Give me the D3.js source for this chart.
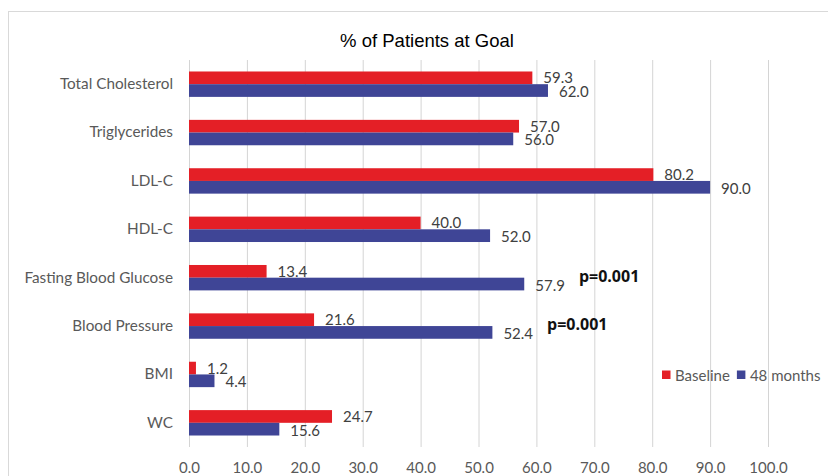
<!DOCTYPE html>
<html>
<head>
<meta charset="utf-8">
<script src="https://cdn.jsdelivr.net/npm/d3@7"></script>
<style>
  html, body { margin: 0; padding: 0; background: #fff; }
  svg { display: block; }
</style>
</head>
<body>
<svg id="chart" width="828" height="476"></svg>
<script>
// Goal attainment by risk factor, baseline vs 48 months
const categories = ["Total Cholesterol", "Triglycerides", "LDL-C", "HDL-C",
  "Fasting Blood Glucose", "Blood Pressure", "BMI", "WC"];
const seriesNames = ["Baseline", "48 months"];
const baseline = [59.3, 57.0, 80.2, 40.0, 13.4, 21.6, 1.2, 24.7];
const months48 = [62.0, 56.0, 90.0, 52.0, 57.9, 52.4, 4.4, 15.6];
const xTicks = [0, 10, 20, 30, 40, 50, 60, 70, 80, 90, 100];
const pNotes = [
  { category: "Fasting Blood Glucose", text: "p=0.001" },
  { category: "Blood Pressure", text: "p=0.001" }
];

const colors = { "Baseline": "#e41f26", "48 months": "#3f4596" };
const labelFont = "Lato, 'Open Sans', sans-serif";

const svg = d3.select("#chart");
const W = 828, H = 476;
const margin = { top: 60, left: 189, right: W - 768, bottom: H - 447 };

// chart frame
svg.append("rect")
  .attr("x", 8.5).attr("y", 11.5)
  .attr("width", W + 20).attr("height", H + 20)
  .attr("fill", "#fff").attr("stroke", "#d9d9d9");

const x = d3.scaleLinear().domain([0, 100]).range([margin.left, W - margin.right]);
const y = d3.scaleBand().domain(categories)
  .range([margin.top, H - margin.bottom])
  .paddingInner(0.475).paddingOuter(0.2375);
const ySub = d3.scaleBand().domain(seriesNames).range([0, y.bandwidth()]);

// vertical gridlines
svg.append("g")
  .selectAll("line").data(xTicks).join("line")
  .attr("x1", d => x(d) + 0.5).attr("x2", d => x(d) + 0.5)
  .attr("y1", margin.top).attr("y2", H - margin.bottom)
  .attr("stroke", "#d4d4d4").attr("stroke-width", 1);

// x tick labels
const xAxis = d3.axisBottom(x).tickValues(xTicks).tickFormat(d3.format(".1f")).tickSize(0).tickPadding(0);
const gx = svg.append("g").attr("transform", `translate(0, ${H - margin.bottom + 15})`).call(xAxis);
gx.select(".domain").remove();
gx.selectAll("text")
  .attr("font-family", labelFont).attr("font-size", 15).attr("fill", "#595959");

// category labels
const yAxis = d3.axisLeft(y).tickSize(0).tickPadding(16);
const gy = svg.append("g").attr("transform", `translate(${margin.left}, 0)`).call(yAxis);
gy.select(".domain").remove();
gy.selectAll("text")
  .attr("font-family", labelFont).attr("font-size", 15.3).attr("fill", "#595959");

const rows = categories.map((c, i) => ({
  category: c,
  values: [
    { series: "Baseline", value: baseline[i] },
    { series: "48 months", value: months48[i] }
  ]
}));

const groups = svg.append("g").selectAll("g").data(rows).join("g")
  .attr("transform", d => `translate(0, ${y(d.category)})`);

groups.selectAll("rect").data(d => d.values).join("rect")
  .attr("x", x(0))
  .attr("y", d => ySub(d.series))
  .attr("width", d => x(d.value) - x(0))
  .attr("height", ySub.bandwidth())
  .attr("fill", d => colors[d.series]);

groups.selectAll("text.val").data(d => d.values).join("text")
  .attr("class", "val")
  .attr("x", d => x(d.value) + 11)
  .attr("y", d => ySub(d.series) + ySub.bandwidth() / 2 + (d.series === "Baseline" ? -0.5 : 0.5))
  .attr("dominant-baseline", "central")
  .attr("font-family", labelFont).attr("font-size", 15).attr("fill", "#404040")
  .text(d => d3.format(".1f")(d.value));

// significance notes, placed after the 48-month value label
pNotes.forEach(n => {
  const i = categories.indexOf(n.category);
  const v = months48[i];
  const lbl = groups.filter(d => d.category === n.category)
    .selectAll("text.val").filter(d => d.series === "48 months").node();
  const w = lbl.getComputedTextLength();
  svg.append("text")
    .attr("x", x(v) + 11 + w + 14)
    .attr("y", y(n.category) + y.bandwidth() / 2 - 2)
    .attr("dominant-baseline", "central")
    .attr("font-family", "'Open Sans', Lato, sans-serif")
    .attr("font-weight", "bold").attr("font-size", 16).attr("fill", "#111")
    .text(n.text);
});

// title
svg.append("text")
  .attr("x", 427).attr("y", 40)
  .attr("text-anchor", "middle").attr("dominant-baseline", "central")
  .attr("font-family", "'Liberation Sans Narrow', 'Liberation Sans', Arial, sans-serif")
  .attr("font-size", 18.5).attr("fill", "#000")
  .text("% of Patients at Goal");

// legend
const legend = svg.append("g").attr("transform", "translate(662, 375)");
let lx = 0;
seriesNames.forEach(s => {
  const g = legend.append("g").attr("transform", `translate(${lx}, 0)`);
  g.append("rect").attr("x", 0).attr("y", -4.5).attr("width", 8.5).attr("height", 8.5)
    .attr("fill", colors[s]);
  const t = g.append("text").attr("x", 13).attr("y", 0)
    .attr("dominant-baseline", "central")
    .attr("font-family", labelFont).attr("font-size", 15).attr("fill", "#595959")
    .text(s);
  lx += 13 + t.node().getComputedTextLength() + 7;
});
</script>
</body>
</html>
